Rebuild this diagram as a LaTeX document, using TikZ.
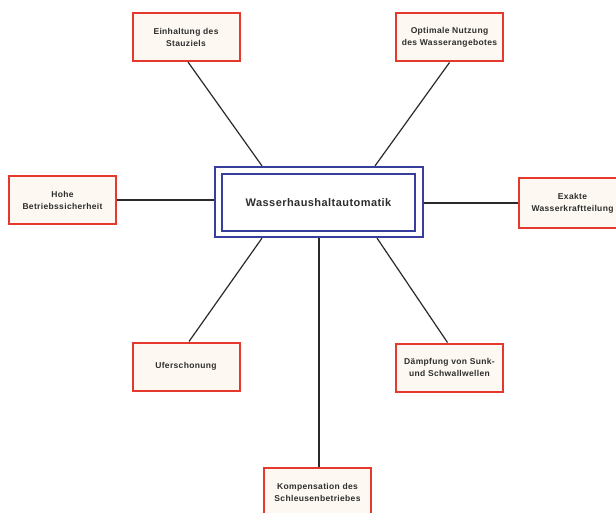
\documentclass[tikz,border=0pt]{standalone}
\usepackage{fontspec}
\setmainfont{Liberation Sans}
\newfontfamily\lblfont[LetterSpace=4]{Liberation Sans}
\definecolor{boxred}{HTML}{E5392E}
\definecolor{boxfill}{HTML}{FDF9F2}
\definecolor{mainblue}{HTML}{383E9C}
\definecolor{inktext}{HTML}{2E2E2E}
\definecolor{inkline}{HTML}{2A2A2A}
\tikzset{
  goalbox/.style={draw=boxred, line width=2pt, fill=boxfill, rectangle, inner sep=0pt,
    minimum width=107pt, minimum height=48pt, align=center,
    font=\lblfont\bfseries\fontsize{8.5}{12}\selectfont, text=inktext},
  mainouter/.style={draw=mainblue, line width=2.2pt, fill=white, rectangle, inner sep=0pt,
    minimum width=208pt, minimum height=70pt},
  maininner/.style={draw=mainblue, line width=2.2pt, rectangle, inner sep=0pt,
    minimum width=193pt, minimum height=57pt,
    font=\lblfont\bfseries\fontsize{11}{13}\selectfont, text=inktext},
  link/.style={draw=inkline, line width=1.2pt}
}
\begin{document}
\begin{tikzpicture}[x=1pt,y=-1pt]
\useasboundingbox (0,0) rectangle (616,513);
\clip (0,0) rectangle (616,513);
\fill[white] (0,0) rectangle (616,513);
\node[mainouter] (C) at (319,202) {};
\node[maininner] (Ci) at (318.5,202.5) {Wasserhaushaltautomatik};
\node[goalbox] (TL) at (186,37) {Einhaltung des\\Stauziels};
\node[goalbox] (TR) at (449.5,37.5) {Optimale Nutzung\\des Wasserangebotes};
\node[goalbox] (L) at (62.5,200) {Hohe\\Betriebssicherheit};
\node[goalbox, minimum height=50pt] (R) at (572.5,203) {Exakte\\Wasserkraftteilung};
\node[goalbox] (LL) at (186,366.5) {Uferschonung};
\node[goalbox] (LR) at (449.5,367.5) {Dämpfung von Sunk-\\und Schwallwellen};
\node[goalbox] (B) at (317.5,492) {Kompensation des\\Schleusenbetriebes};
\draw[link] ([xshift=2pt]TL.south) -- ([xshift=-57pt]C.north);
\draw[link] (TR.south) -- ([xshift=56pt]C.north);
\draw[link] (L.east) -- (L.east -| C.west);
\draw[link] (R.west) -- (R.west -| C.east);
\draw[link] ([xshift=-57pt]C.south) -- ([xshift=3pt]LL.north);
\draw[link] ([xshift=58pt]C.south) -- ([xshift=-2pt]LR.north);
\draw[link] (C.south) -- (C.south |- B.north);
\end{tikzpicture}
\end{document}
